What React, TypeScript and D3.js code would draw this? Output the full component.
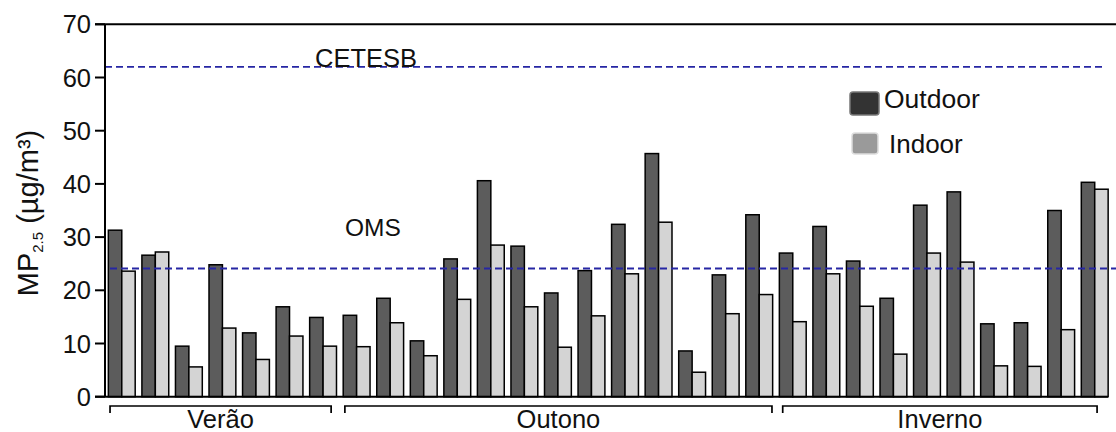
import React from "react";
import * as d3 from "d3";

const outdoor = [31.3, 26.6, 9.5, 24.8, 12.0, 16.9, 14.9, 15.3, 18.5, 10.5, 25.9, 40.6, 28.3, 19.5, 23.7, 32.4, 45.7, 8.6, 22.9, 34.2, 27.0, 32.0, 25.5, 18.5, 36.0, 38.5, 13.7, 13.9, 35.0, 40.3];
const indoor = [23.6, 27.2, 5.6, 12.9, 7.0, 11.4, 9.5, 9.4, 13.9, 7.7, 18.3, 28.5, 16.9, 9.3, 15.2, 23.1, 32.8, 4.6, 15.6, 19.2, 14.1, 23.1, 17.0, 8.0, 27.0, 25.3, 5.8, 5.7, 12.6, 39.0];
const seasons = ["Verão", "Outono", "Inverno"];
// bracket extents in group-index units
const seasonFrom = [0.05, 7.05, 20.1];
const seasonTo = [6.64, 19.78, 29.47];
const yTicks = [0, 10, 20, 30, 40, 50, 60, 70];
const refLabels = ["CETESB", "OMS"];
const refValues = [62, 24.1];
const legendItems = ["Outdoor", "Indoor"];

const W = 1116;
const H = 432;
const FONT = "Liberation Sans, Arial, sans-serif";

export default function App() {
  const idx = outdoor.map((_, i) => i);
  const x = d3.scaleBand<number>().domain(idx).range([105, 1111.5]).paddingInner(0.2).paddingOuter(0.1);
  const xi = d3.scaleLinear().domain([0, 1]).range([x(0)!, x(1)!]);
  const y = d3.scaleLinear().domain([0, 70]).range([396.7, 24.3]);
  const bw = x.bandwidth() / 2;
  const blue = "#2626a4";

  return (
    <svg width={W} height={H} style={{ position: "absolute", left: 0, top: 0, background: "#fff" }} fontFamily={FONT}>
      <rect x={0} y={0} width={W} height={H} fill="#fff" />
      {/* bars */}
      {idx.map((i) => (
        <g key={i}>
          <rect x={x(i)!} y={y(outdoor[i])} width={bw} height={y(0) - y(outdoor[i])} fill="#5c5c5c" stroke="#000" strokeWidth={1.5} />
          <rect x={x(i)! + bw} y={y(indoor[i])} width={bw} height={y(0) - y(indoor[i])} fill="#d4d4d4" stroke="#000" strokeWidth={1.5} />
        </g>
      ))}
      {/* reference lines */}
      <line x1={105} x2={1105} y1={y(refValues[0])} y2={y(refValues[0])} stroke={blue} strokeWidth={1.6} strokeDasharray="7,4" />
      <line x1={110} x2={1116} y1={y(refValues[1])} y2={y(refValues[1])} stroke={blue} strokeWidth={1.9} strokeDasharray="7,4" />
      <text x={315} y={y(refValues[0])} fontSize={25.5} fill="#111">{refLabels[0]}</text>
      <text x={345} y={236} fontSize={24.5} fill="#111">{refLabels[1]}</text>
      {/* axes */}
      <line x1={105} x2={105} y1={y(70)} y2={y(0)} stroke="#000" strokeWidth={2} />
      <line x1={95} x2={1108} y1={y(0)} y2={y(0)} stroke="#000" strokeWidth={2} />
      <line x1={95} x2={1116} y1={y(70)} y2={y(70)} stroke="#000" strokeWidth={2} />
      {yTicks.map((t) => (
        <g key={t}>
          <line x1={95} x2={105} y1={y(t)} y2={y(t)} stroke="#000" strokeWidth={2} />
          <text x={91} y={y(t)} dy="0.36em" textAnchor="end" fontSize={25.5} fill="#111">{t}</text>
        </g>
      ))}
      {/* y label */}
      <text transform="translate(38,213) rotate(-90)" textAnchor="middle" fontSize={29} fill="#111">
        MP<tspan fontSize={15} dy={5}>2.5</tspan><tspan dy={-5}> (µg/m³)</tspan>
      </text>
      {/* season brackets */}
      {seasons.map((s, k) => {
        const x1 = xi(seasonFrom[k]);
        const x2 = xi(seasonTo[k]);
        return (
          <g key={s}>
            <path d={`M${x1},413V406H${x2}V413`} fill="none" stroke="#000" strokeWidth={1.7} />
            <text x={(x1 + x2) / 2} y={428.3} textAnchor="middle" fontSize={25.5} fill="#111">{s}</text>
          </g>
        );
      })}
      {/* legend */}
      <rect x={850} y={92} width={29} height={23} rx={3} fill="#333" stroke="#777" strokeWidth={1.5} />
      <text x={884} y={108} fontSize={26.5} fill="#111">{legendItems[0]}</text>
      <rect x={852} y={133} width={26} height={21} rx={3} fill="#9a9a9a" stroke="#ddd" strokeWidth={1.5} />
      <text x={889} y={153} fontSize={26} fill="#111">{legendItems[1]}</text>
    </svg>
  );
}
